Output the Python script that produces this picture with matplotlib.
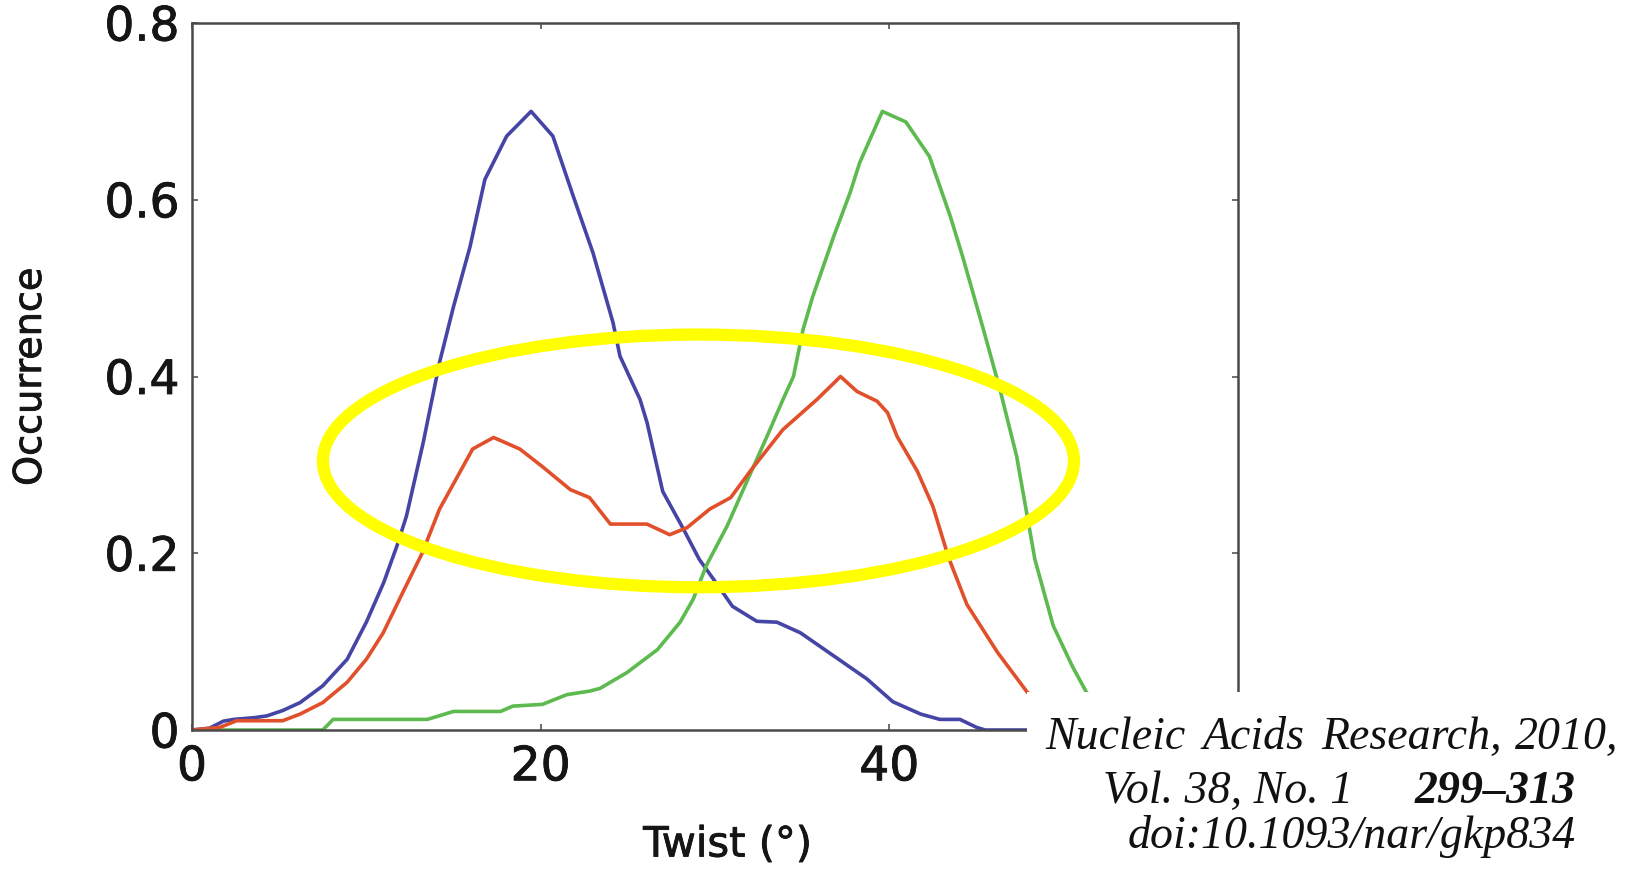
import matplotlib
matplotlib.use("Agg")
import matplotlib.pyplot as plt
import matplotlib.patheffects as pe
from matplotlib.patches import Ellipse, Rectangle

# ---- data ----
blue_x = [0, 1.0, 1.8, 2.4, 3.6, 4.3, 5.2, 6.2, 7.5, 8.9, 10.0, 11.0, 11.75, 12.3, 13.26, 14.2,
          15.0, 15.95, 16.8, 18.05, 19.45, 20.7, 21.87, 23.0, 24.15, 24.55, 25.7, 26.1, 27.0,
          28.2, 29.1, 29.9, 31.0, 32.4, 33.55, 34.9, 36.8, 38.7, 40.2, 41.8, 42.9, 44.05, 45.0,
          45.5, 50.0]
blue_y = [0, 0.002, 0.010, 0.012, 0.014, 0.016, 0.022, 0.031, 0.050, 0.080, 0.122, 0.167, 0.208,
          0.242, 0.325, 0.416, 0.479, 0.547, 0.623, 0.672, 0.700, 0.672, 0.604, 0.540, 0.461,
          0.423, 0.374, 0.348, 0.270, 0.227, 0.193, 0.171, 0.140, 0.123, 0.122, 0.110, 0.084,
          0.058, 0.032, 0.018, 0.012, 0.012, 0.003, 0.0, 0.0]

red_x = [0, 1.6, 2.56, 5.2, 6.2, 7.5, 8.9, 10.0, 10.97, 12.1, 13.2, 14.2, 16.1, 17.3, 18.8, 20.1,
         21.7, 22.8, 24.0, 26.1, 27.4, 28.4, 29.7, 30.9, 32.1, 33.9, 35.85, 37.2, 38.15, 39.3,
         39.9, 40.45, 41.6, 42.5, 43.4, 44.45, 46.2, 47.9, 49.5, 51.0]
red_y = [0, 0.003, 0.0105, 0.0105, 0.018, 0.031, 0.054, 0.080, 0.110, 0.156, 0.200, 0.250, 0.318,
         0.331, 0.318, 0.298, 0.272, 0.263, 0.233, 0.233, 0.221, 0.229, 0.250, 0.263, 0.295,
         0.340, 0.374, 0.400, 0.383, 0.372, 0.359, 0.332, 0.293, 0.253, 0.195, 0.142, 0.088,
         0.043, 0.015, 0.0]

green_x = [0, 7.5, 8.1, 13.5, 15.0, 17.7, 18.4, 20.1, 21.5, 22.8, 23.4, 24.0, 24.95, 26.7, 28.0,
           28.75, 29.5, 30.7, 31.8, 33.0, 33.9, 34.5, 35.05, 35.6, 36.8, 37.75, 38.3, 39.6,
           40.95, 42.3, 43.5, 44.2, 45.4, 46.35, 47.3, 48.35, 49.4, 50.5, 51.3, 52.5, 54.0]
green_y = [0, 0, 0.012, 0.012, 0.021, 0.021, 0.027, 0.029, 0.040, 0.044, 0.047, 0.054, 0.065,
           0.091, 0.122, 0.148, 0.186, 0.231, 0.280, 0.333, 0.374, 0.400, 0.453, 0.490, 0.558,
           0.608, 0.642, 0.700, 0.688, 0.649, 0.581, 0.536, 0.453, 0.385, 0.310, 0.193, 0.118,
           0.072, 0.043, 0.015, 0.0]

x_ticks = [0, 20, 40, 60]
x_tick_labels = ["0", "20", "40", ""]   # the 60 label is hidden by the citation box
y_ticks = [0, 0.2, 0.4, 0.6, 0.8]
y_tick_labels = ["0", "0.2", "0.4", "0.6", "0.8"]
x_label = "Twist (°)"
y_label = "Occurrence"
citation_1_words = ["Nucleic", "Acids", "Research,", "2010,"]
citation_2a = "Vol. 38, No. 1"
citation_2b = "299–313"
citation_3 = "doi:10.1093/nar/gkp834"

# ---- figure ----
W, H = 1631, 870
fig = plt.figure(figsize=(W / 100, H / 100), dpi=100)
fig.patch.set_facecolor("white")
L, R, T, B = 192, 1238, 24, 731
ax = fig.add_axes([L / W, 1 - B / H, (R - L) / W, (B - T) / H])

lw = 2.6
ax.plot(blue_x, blue_y, color="#4545A6", lw=lw, solid_joinstyle="round")
ax.plot(green_x, green_y, color="#5DBA4F", lw=lw, solid_joinstyle="round")
ax.plot(red_x, red_y, color="#E1502B", lw=lw, solid_joinstyle="round")

ax.set_xlim(0, 60)
ax.set_ylim(0, 0.8)
ax.set_xticks(x_ticks)
ax.set_xticklabels(x_tick_labels)
ax.set_yticks(y_ticks)
ax.set_yticklabels(y_tick_labels)

for s in ax.spines.values():
    s.set_color("#4a4a4a")
    s.set_linewidth(1.8)

txt_col = "#151515"
heavy = [pe.withStroke(linewidth=0.6, foreground=txt_col)]
ax.tick_params(axis="both", direction="in", length=4.5, width=1.2, color="#555555",
               top=True, right=True, labelsize=34, labelcolor=txt_col)
ax.tick_params(axis="x", pad=11)
ax.tick_params(axis="y", pad=9)
for lab in ax.get_xticklabels() + ax.get_yticklabels():
    lab.set_family("DejaVu Sans")
    lab.set_path_effects(heavy)

ax.set_xlabel(x_label, fontsize=30, family="DejaVu Sans", color=txt_col, path_effects=heavy)
ax.set_ylabel(y_label, fontsize=27.5, family="DejaVu Sans", color=txt_col, path_effects=heavy)
ax.xaxis.set_label_coords(0.512, -0.162)
ax.yaxis.set_label_coords(-0.154, 0.50)
ax.xaxis.label.set_verticalalignment("center")
ax.yaxis.label.set_verticalalignment("center")

# yellow annotation ellipse
ell = Ellipse((29.05, 0.3045), 43.08, 0.286, fill=False, edgecolor="#FFFF00",
              linewidth=8.8, zorder=5)
ax.add_patch(ell)

# white citation box covering the lower right corner
box_left, box_top = 1027, 693
fig.patches.append(Rectangle((box_left / W, 0), 1 - box_left / W, 1 - box_top / H,
                             transform=fig.transFigure, facecolor="white",
                             edgecolor="none", zorder=10))

serif = "Liberation Serif"
fs = 33
kw = dict(family=serif, style="italic", fontsize=fs, va="baseline", zorder=11, color="#111111")
# first line is justified across the box: place words at their reference positions
word_x = [1045, 1203, 1321, 1618]
word_ha = ["left", "left", "left", "right"]
for wd, wx, wha in zip(citation_1_words, word_x, word_ha):
    fig.text(wx / W, 1 - 749 / H, wd, ha=wha, **kw)
fig.text(1103 / W, 1 - 803 / H, citation_2a, ha="left", **kw)
fig.text(1576 / W, 1 - 803 / H, citation_2b, ha="right", weight="bold", **kw)
fig.text(1576 / W, 1 - 848 / H, citation_3, ha="right", **kw)

fig.savefig("out.png", dpi=100, facecolor="white")
